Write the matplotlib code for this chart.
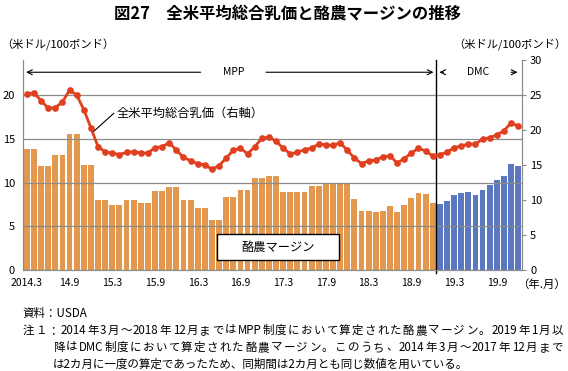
import matplotlib
matplotlib.use("Agg")
import matplotlib.pyplot as plt
from matplotlib.patches import Rectangle
import numpy as np

plt.rcParams['font.family'] = ['Noto Sans CJK JP', 'DejaVu Sans']

# 酪農マージン (left axis), 2014.3 - 2018.12 MPP, 2019.1 - 2019.12 DMC
mpp_margin = [13.8, 13.8, 11.9, 11.9, 13.1, 13.1, 15.5, 15.5, 12.0, 12.0,
              8.0, 8.0, 7.45, 7.45, 8.0, 8.0, 7.65, 7.65, 9.05, 9.05,
              9.5, 9.5, 8.0, 8.0, 7.1, 7.1, 5.75, 5.75, 8.3, 8.3,
              9.15, 9.15, 10.5, 10.5, 10.8, 10.8, 8.9, 8.9, 8.9, 8.9,
              9.6, 9.6, 9.85, 9.85, 9.85, 9.85,
              8.1, 6.8, 6.7, 6.6, 6.7, 7.3, 6.6, 7.4, 8.2, 8.85, 8.65, 7.7]
dmc_margin = [7.6, 7.85, 8.6, 8.75, 8.9, 8.55, 9.15, 9.75, 10.3, 10.75, 12.1, 11.85]

# 全米平均総合乳価 (right axis), monthly 2014.3 - 2019.12
milk_price = [25.2, 25.3, 24.2, 23.1, 23.2, 24.0, 25.7, 25.0, 22.9, 20.3,
              17.6, 16.9, 16.7, 16.5, 16.8, 16.9, 16.7, 16.7, 17.5, 17.6,
              18.2, 17.1, 16.1, 15.6, 15.2, 15.0, 14.4, 14.9, 16.0, 17.1,
              17.4, 16.6, 17.6, 18.8, 19.0, 18.4, 17.4, 16.6, 16.8, 17.2,
              17.4, 18.0, 17.9, 17.8, 18.2, 17.1, 16.0, 15.2, 15.6, 15.7,
              16.2, 16.3, 15.3, 15.9, 16.7, 17.4, 17.0, 16.3, 16.5, 16.8,
              17.5, 17.7, 18.0, 18.0, 18.7, 18.9, 19.3, 19.9, 21.0, 20.6]

tick_labels = ['2014.3', '14.9', '15.3', '15.9', '16.3', '16.9', '17.3',
               '17.9', '18.3', '18.9', '19.3', '19.9']

notes = ['注１：2014年3月～2018年12月まではMPP制度において算定された酪農マージン。2019年1月以',
         '降はDMC制度において算定された酪農マージン。このうち、2014年3月～2017年12月まで',
         'は2カ月に一度の算定であったため、同期間は2カ月とも同じ数値を用いている。']

orange = '#E4984E'
blue = '#5A77C0'
red = '#E0401F'
grid_gray = '#8C8C8C'


def split_tokens(s):
    # ascii runs stay together, every other character is its own token
    tokens = []
    for ch in s:
        if ch.isascii() and tokens and tokens[-1].isascii():
            tokens[-1] += ch
        else:
            tokens.append(ch)
    return tokens


def justified_text(fig, x0, x1, y, s, size):
    r = fig.canvas.get_renderer()
    W = fig.bbox.width
    tokens = split_tokens(s)
    widths = []
    for tok in tokens:
        t = fig.text(0, 0, tok, fontsize=size)
        widths.append(t.get_window_extent(renderer=r).width)
        t.remove()
    gap = ((x1 - x0) * W - sum(widths)) / (len(tokens) - 1)
    x = x0 * W
    for tok, w in zip(tokens, widths):
        fig.text(x / W, y, tok, fontsize=size, ha='left', va='center')
        x += w + gap


fig = plt.figure(figsize=(5.68, 3.71), dpi=100)
ax = fig.add_axes([0.041, 0.2722, 0.8775, 0.5661])
ax2 = ax.twinx()

n_mpp = len(mpp_margin)
x_mpp = np.arange(n_mpp)
x_dmc = np.arange(n_mpp, n_mpp + len(dmc_margin))
x_all = np.arange(len(milk_price))

ax.bar(x_mpp, mpp_margin, width=0.82, color=orange, zorder=1)
ax.bar(x_dmc, dmc_margin, width=0.82, color=blue, zorder=1)
ax2.plot(x_all, milk_price, color=red, lw=2.0, marker='o', markersize=3.8)

ax.set_xlim(-0.5, len(milk_price) - 0.5)
ax.set_ylim(0, 24)
ax2.set_ylim(0, 30)

ax.set_yticks([0, 5, 10, 15, 20])
ax2.set_yticks([0, 5, 10, 15, 20, 25, 30])
ax.set_xticks(x_all[::6])
ax.set_xticklabels(tick_labels)

ax.set_axisbelow(False)
ax.yaxis.grid(True, color=grid_gray, lw=0.9)
ax.tick_params(axis='y', length=0, pad=6, labelsize=8)
ax.tick_params(axis='x', length=0, pad=6, labelsize=7.5)
ax2.tick_params(axis='y', direction='out', length=3, color=grid_gray, pad=3, labelsize=8)

for a in (ax, ax2):
    a.spines['top'].set_visible(False)
    for s in ('left', 'right', 'bottom'):
        a.spines[s].set_color(grid_gray)

# MPP / DMC divider
ax.axvline(n_mpp - 0.5, ymin=-0.015, ymax=1.0, color='black', lw=1.0, clip_on=False, zorder=6)

arr_y = 22.6
arrow_kw = dict(arrowstyle='->', color='black', lw=0.8, mutation_scale=9)
ax.annotate('', xy=(-0.5, arr_y), xytext=(24.8, arr_y), arrowprops=arrow_kw)
ax.annotate('', xy=(n_mpp - 0.5, arr_y), xytext=(33.2, arr_y), arrowprops=arrow_kw)
ax.text(29.0, arr_y, 'MPP', ha='center', va='center', fontsize=7.5)
ax.annotate('', xy=(n_mpp - 0.45, arr_y), xytext=(n_mpp + 0.9, arr_y), arrowprops=arrow_kw)
ax.text(63.4, arr_y, 'DMC', ha='center', va='center', fontsize=7.5)
ax.annotate('', xy=(69.3, arr_y), xytext=(67.6, arr_y), arrowprops=arrow_kw)

# series labels
ax.plot([9.2, 12.2], [15.7, 17.9], color='black', lw=0.8, zorder=6)
ax.text(12.6, 17.9, '全米平均総合乳価（右軸）', ha='left', va='center', fontsize=8.8)
ax.add_patch(Rectangle((26.7, 1.15), 17.1, 2.95, facecolor='white',
                       edgecolor='black', lw=1.0, zorder=5))
ax.text(35.25, 2.62, '酪農マージン', ha='center', va='center', fontsize=8.8, zorder=6)

# titles and units
fig.text(0.506, 0.962, '図27　全米平均総合乳価と酪農マージンの推移',
         ha='center', va='center', fontsize=11.8, fontweight='bold')
fig.text(0.002, 0.878, '（米ドル/100ポンド）', ha='left', va='center', fontsize=8.1)
fig.text(0.997, 0.878, '（米ドル/100ポンド）', ha='right', va='center', fontsize=8.1)
fig.text(0.997, 0.232, '（年.月）', ha='right', va='center', fontsize=8.2)

# notes
note_size = 8.3
fig.text(0.039, 0.156, '資料：USDA', ha='left', va='center', fontsize=note_size)
justified_text(fig, 0.039, 0.991, 0.110, notes[0], note_size)
justified_text(fig, 0.093, 0.991, 0.064, notes[1], note_size)
fig.text(0.093, 0.018, notes[2], ha='left', va='center', fontsize=note_size)

fig.savefig('out.png', dpi=100)
plt.close(fig)
